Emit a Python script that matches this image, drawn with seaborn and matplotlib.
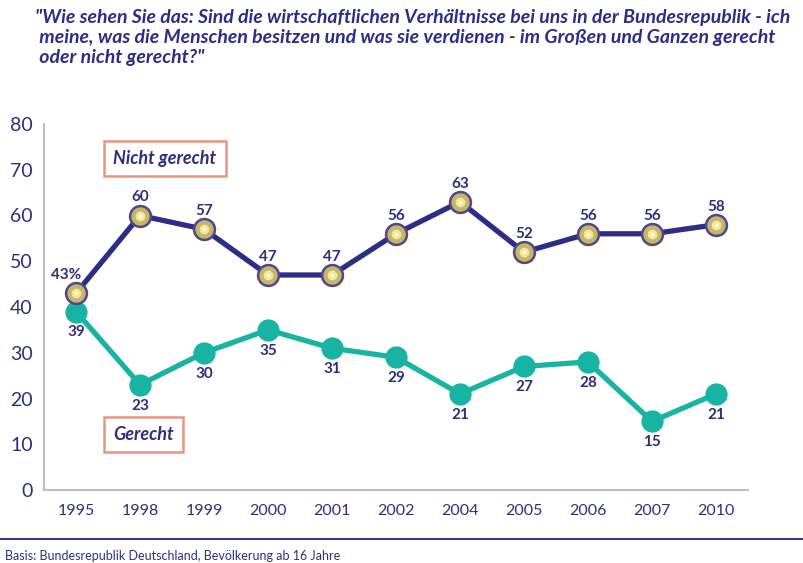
import pandas as pd
import numpy as np
import seaborn as sns
import matplotlib.pyplot as plt

# Data
years = ["1995", "1998", "1999", "2000", "2001", "2002", "2004", "2005", "2006", "2007", "2010"]
nicht_gerecht = [43, 60, 57, 47, 47, 56, 63, 52, 56, 56, 58]
gerecht = [39, 23, 30, 35, 31, 29, 21, 27, 28, 15, 21]

NAVY = "#2d2d88"
TEAL = "#17b3a3"
TEXT = "#2e2e7e"
GREY = "#b9c0c8"

sns.set_style("white")
plt.rcParams['font.family'] = ['Lato', 'DejaVu Sans']

pos = np.arange(len(years))
df = pd.DataFrame({
    "pos": np.concatenate([pos, pos]),
    "wert": nicht_gerecht + gerecht,
    "gruppe": ["Nicht gerecht"] * len(years) + ["Gerecht"] * len(years),
})

fig = plt.figure(figsize=(8.04, 5.63), dpi=100)
ax = fig.add_axes([44 / 804, 1 - 490 / 563, (748 - 44) / 804, (490 - 124) / 563])

sns.lineplot(data=df, x="pos", y="wert", hue="gruppe",
             palette={"Nicht gerecht": NAVY, "Gerecht": TEAL},
             linewidth=3.8, legend=False, ax=ax)

# markers
ax.plot(pos, gerecht, "o", ms=15, color=TEAL, zorder=4)
ax.plot(pos, nicht_gerecht, "o", ms=15, mfc="#c9b46a", mec="#4a4a8e", mew=1.8, zorder=4)
ax.plot(pos, nicht_gerecht, "o", ms=7, mfc="#f3e79a", mec="none", zorder=5)
ax.plot(pos, nicht_gerecht, "o", ms=3, mfc="#fffbe0", mec="none", zorder=6)

# value labels
for i, v in enumerate(nicht_gerecht):
    txt = f"{v}%" if i == 0 else str(v)
    dx = -7 if i == 0 else 0
    ax.annotate(txt, (i, v), xytext=(dx, 13), textcoords="offset points",
                ha="center", va="center", fontsize=11, fontweight="bold", color=TEXT)
for i, v in enumerate(gerecht):
    ax.annotate(str(v), (i, v), xytext=(0, -15), textcoords="offset points",
                ha="center", va="center", fontsize=11, fontweight="bold", color=TEXT)

# series boxes
box = dict(boxstyle="square,pad=0.5", fc="white", ec="#e8957e", lw=1.8)
ax.text(1.39, 72.4, "Nicht gerecht", ha="center", va="center", fontsize=13,
        style="italic", fontweight="bold", color=TEXT, bbox=box)
ax.text(1.06, 12.2, "Gerecht", ha="center", va="center", fontsize=13,
        style="italic", fontweight="bold", color=TEXT, bbox=box)

# axes
ax.set_xlim(-0.5, len(years) - 0.5)
ax.set_ylim(0, 80)
ax.set_xticks(pos)
ax.set_xticklabels(years)
ax.set_xticks(np.arange(len(years)) + 0.5, minor=True)
ax.set_yticks(range(0, 81, 10))
ax.tick_params(axis="x", which="major", length=0, pad=10, labelsize=11.5, labelcolor=TEXT)
ax.tick_params(axis="x", which="minor", direction="in", length=9, width=1.2, color=GREY)
ax.tick_params(axis="y", direction="in", length=12, width=1.2, color=GREY,
               pad=8, labelsize=14, labelcolor=TEXT)
ax.set_xlabel("")
ax.set_ylabel("")
for s in ["top", "right"]:
    ax.spines[s].set_visible(False)
for s in ["left", "bottom"]:
    ax.spines[s].set_color(GREY)
    ax.spines[s].set_linewidth(1.5)

# title
fig.text(35 / 804, 1 - 9 / 563,
         "\"Wie sehen Sie das: Sind die wirtschaftlichen Verhältnisse bei uns in der Bundesrepublik - ich\n"
         " meine, was die Menschen besitzen und was sie verdienen - im Großen und Ganzen gerecht\n"
         " oder nicht gerecht?\"",
         ha="left", va="top", fontsize=14, style="italic", fontweight="bold",
         color=NAVY, linespacing=1.2)

# bottom rule and footer
fig.add_artist(plt.Line2D([0, 1], [1 - 539 / 563] * 2, color="#3a3a7e", lw=1.5))
fig.text(5 / 804, 1 - 556 / 563, "Basis: Bundesrepublik Deutschland, Bevölkerung ab 16 Jahre",
         ha="left", va="center", fontsize=9, color=TEXT)

fig.savefig("out.png", dpi=100)
